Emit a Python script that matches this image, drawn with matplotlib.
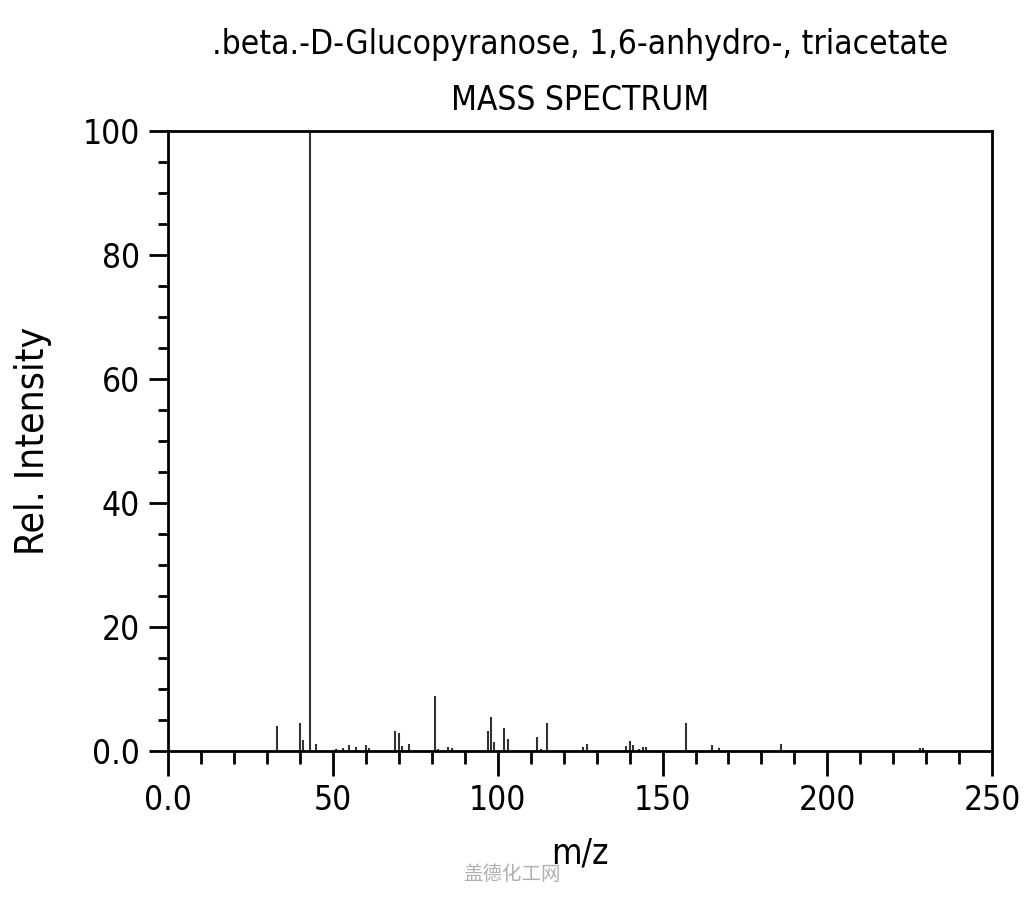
import matplotlib
matplotlib.use("Agg")
import matplotlib.pyplot as plt
from matplotlib.ticker import MultipleLocator, FixedLocator

mz = [33, 40, 41, 43, 45, 51, 53, 55, 57, 60, 61, 69, 70, 71, 73, 81, 82, 85, 86,
      97, 98, 99, 102, 103, 105, 112, 113, 115, 126, 127, 139, 140, 141, 143, 144,
      145, 157, 165, 167, 186, 228, 229]
intensity = [4.0, 4.5, 1.7, 100.0, 1.2, 0.3, 0.4, 0.9, 0.7, 1.0, 0.4, 3.2, 2.9, 0.8,
             1.2, 8.9, 0.3, 0.6, 0.4, 3.3, 5.5, 1.4, 3.7, 1.9, 0.2, 2.3, 0.3, 4.5,
             0.6, 1.1, 0.8, 1.6, 0.9, 0.3, 0.6, 0.6, 4.5, 1.0, 0.4, 1.2, 0.5, 0.5]

x_ticks = [0, 50, 100, 150, 200, 250]
x_labels = ["0.0", "50", "100", "150", "200", "250"]
y_ticks = [0, 20, 40, 60, 80, 100]
y_labels = ["0.0", "20", "40", "60", "80", "100"]

title_text = ".beta.-D-Glucopyranose, 1,6-anhydro-, triacetate\nMASS SPECTRUM"

plt.rcParams['font.family'] = ['DejaVu Sans']
plt.rcParams['font.stretch'] = 'condensed'

fig = plt.figure(figsize=(10.24, 9.0), dpi=100)
ax = fig.add_axes([0.164, 0.1656, 0.805, 0.6888])

ax.vlines(mz, 0, intensity, color="#333333", linewidth=1.5)

ax.set_xlim(0, 250)
ax.set_ylim(0, 100)
ax.xaxis.set_major_locator(FixedLocator(x_ticks))
ax.set_xticklabels(x_labels)
ax.xaxis.set_minor_locator(MultipleLocator(10))
ax.yaxis.set_major_locator(FixedLocator(y_ticks))
ax.set_yticklabels(y_labels)
ax.yaxis.set_minor_locator(MultipleLocator(5))

for s in ax.spines.values():
    s.set_linewidth(2)
    s.set_color("black")

ax.tick_params(axis="both", which="major", direction="out", length=18, width=2,
               labelsize=24, pad=6, colors="black")
ax.tick_params(axis="both", which="minor", direction="out", length=9, width=2)
ax.tick_params(axis="y", which="major", length=14)
ax.tick_params(axis="y", which="minor", length=7)

ax.set_xlabel("m/z", fontsize=25, labelpad=14)
ax.set_ylabel("Rel. Intensity", fontsize=28, labelpad=22)
ax.set_title(title_text, fontsize=24, linespacing=1.9, pad=15)

fig.text(0.5, 0.028, "盖德化工网", fontsize=14, color="#b0b0b0", ha="center",
         va="center", family=["Noto Sans CJK SC", "DejaVu Sans"])

fig.savefig("out.png", dpi=100)
